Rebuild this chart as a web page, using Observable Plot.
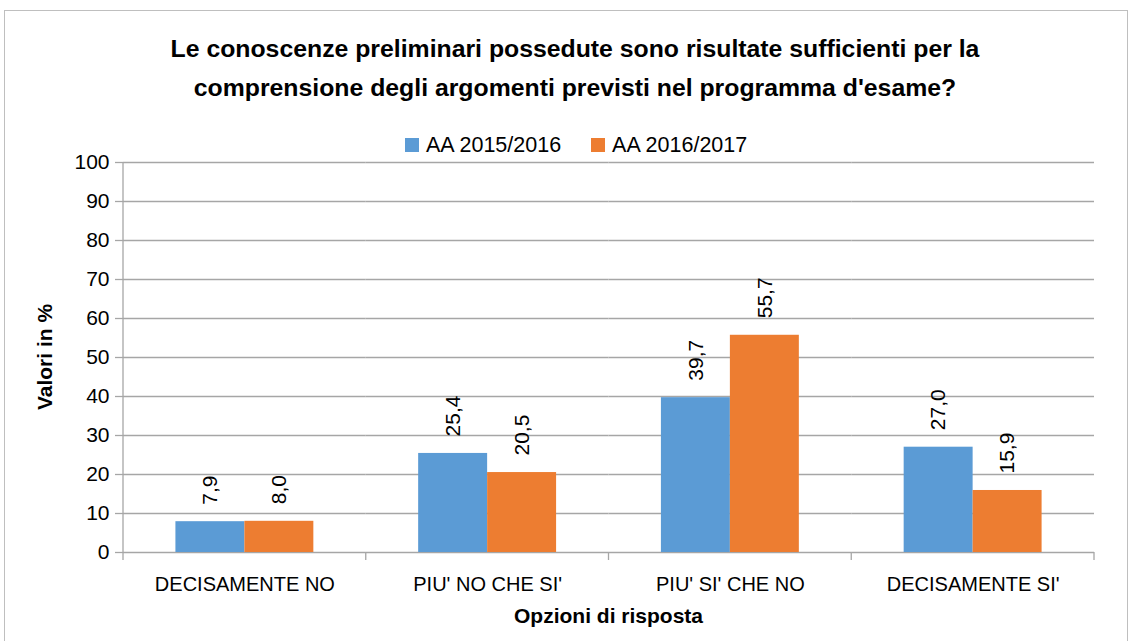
<!DOCTYPE html>
<html><head><meta charset="utf-8">
<script src="https://cdn.jsdelivr.net/npm/d3@7"></script>
<script src="https://cdn.jsdelivr.net/npm/@observablehq/plot@0.6"></script>
<style>
body{margin:0;background:#fff;font-family:"Liberation Sans",Arial,sans-serif;color:#000;}
#frame{position:absolute;left:4px;top:10px;width:1122px;height:650px;border:1px solid #bfbfbf;}
#title{position:absolute;left:0;top:29px;width:1150px;text-align:center;font-weight:bold;font-size:24.8px;line-height:39px;}
#legend{position:absolute;top:133px;left:405px;display:flex;font-size:21.5px;line-height:24px;}
.item{display:flex;align-items:center;margin-right:30px;}
.sw{width:14px;height:14px;margin-right:7px;}
#chart{position:absolute;left:0;top:130px;}
</style></head>
<body>
<div id="frame"></div>
<div id="title">Le conoscenze preliminari possedute sono risultate sufficienti per la<br>comprensione degli argomenti previsti nel programma d'esame?</div>
<div id="chart"></div>
<div id="legend"></div>
<script>
const categories = ["DECISAMENTE NO", "PIU' NO CHE SI'", "PIU' SI' CHE NO", "DECISAMENTE SI'"];
const seriesNames = ["AA 2015/2016", "AA 2016/2017"];
const values2015 = [7.9, 25.4, 39.7, 27.0];
const values2016 = [8.0, 20.5, 55.7, 15.9];
const yTicks = [0, 10, 20, 30, 40, 50, 60, 70, 80, 90, 100];
const colors = ["#5B9BD5", "#ED7D31"];

const data = categories.flatMap((c, i) => [
  {cat: c, series: seriesNames[0], value: values2015[i]},
  {cat: c, series: seriesNames[1], value: values2016[i]}
]);

const legend = document.getElementById("legend");
seriesNames.forEach((s, i) => {
  const it = document.createElement("div"); it.className = "item";
  const sw = document.createElement("div"); sw.className = "sw"; sw.style.background = colors[i];
  const tx = document.createElement("span"); tx.textContent = s;
  it.appendChild(sw); it.appendChild(tx); legend.appendChild(it);
});

const fmt = v => d3.format(".1f")(v).replace(".", ",");
const grid = "#a6a6a6";
const font = "'Liberation Sans', Arial, sans-serif";

const chart = Plot.plot({
  width: 1131, height: 500,
  marginTop: 32, marginBottom: 78, marginLeft: 123, marginRight: 37,
  style: {fontFamily: font, fontSize: "21px", color: "#000", background: "transparent"},
  fx: {domain: categories, paddingInner: 0, paddingOuter: 0, label: null, round: false},
  x: {domain: seriesNames, paddingInner: 0, paddingOuter: 0.76, axis: null, round: false},
  y: {domain: [0, 100], ticks: yTicks},
  color: {domain: seriesNames, range: colors},
  marks: [
    Plot.ruleY(yTicks, {stroke: grid, strokeWidth: 1.3}),
    Plot.axisY(yTicks, {tickSize: 8, tickPadding: 6, stroke: grid, strokeWidth: 1.3, fill: "#000", label: null}),
    Plot.axisFx({anchor: "bottom", tickSize: 0, tickPadding: 24, label: null, fill: "#000", fontSize: 20}),
    Plot.barY(data, {fx: "cat", x: "series", y: "value", fill: "series"}),
    Plot.text(data, {fx: "cat", x: "series", y: "value", text: d => fmt(d.value), rotate: -90, textAnchor: "start", dy: -17, fill: "#000"})
  ]
});
document.getElementById("chart").appendChild(chart);

// axis line, category boundary ticks and axis titles placed with the plot's own scales
const fxS = chart.scale("fx"), yS = chart.scale("y");
const y0 = yS.apply(0), yTop = yS.apply(100);
const bounds = categories.map(c => fxS.apply(c)).concat([fxS.apply(categories[categories.length - 1]) + fxS.bandwidth]);
const svg = d3.select(chart);
const g = svg.append("g").attr("stroke", grid).attr("stroke-width", 1.3);
g.append("line").attr("x1", bounds[0]).attr("x2", bounds[0]).attr("y1", yTop).attr("y2", y0 + 8);
bounds.slice(1).forEach(b => g.append("line").attr("x1", b).attr("x2", b).attr("y1", y0).attr("y2", y0 + 8));
svg.append("text").attr("x", (bounds[0] + bounds[bounds.length - 1]) / 2).attr("y", y0 + 71)
  .attr("text-anchor", "middle").attr("font-weight", "bold").attr("font-size", 21).attr("fill", "#000")
  .attr("font-family", font).text("Opzioni di risposta");
svg.append("text").attr("transform", `translate(${bounds[0] - 78},${(y0 + yTop) / 2}) rotate(-90)`)
  .attr("text-anchor", "middle").attr("dy", "0.35em").attr("font-weight", "bold").attr("font-size", 21)
  .attr("fill", "#000").attr("font-family", font).text("Valori in %");
</script>
</body></html>
